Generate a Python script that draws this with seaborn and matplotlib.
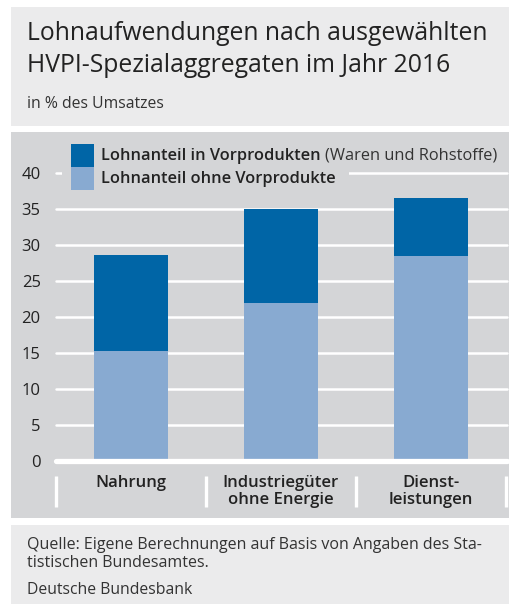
import numpy as np
import pandas as pd
import matplotlib
matplotlib.use("Agg")
import matplotlib.pyplot as plt
from matplotlib.patches import Rectangle
import seaborn as sns

# --- data ---
categories = ["Nahrung", "Industriegüter\nohne Energie", "Dienst-\nleistungen"]
ohne_vorprodukte = [15.3, 22.0, 28.5]
in_vorprodukten = [13.3, 13.0, 8.0]

title = "Lohnaufwendungen nach ausgewählten\nHVPI-Spezialaggregaten im Jahr 2016"
subtitle = "in % des Umsatzes"
source = "Quelle: Eigene Berechnungen auf Basis von Angaben des Sta-\ntistischen Bundesamtes."
publisher = "Deutsche Bundesbank"

# --- style ---
DARK = "#0065a6"
LIGHT = "#88aad1"
PANEL = "#d4d5d7"
HEADER = "#ebebec"
TEXT = "#222222"

sns.set_theme(style="white")
plt.rcParams["font.family"] = ["Open Sans", "DejaVu Sans"]

W, H = 510, 604
fig = plt.figure(figsize=(W / 100, H / 100), dpi=100)


def fx(px):
    return px / W


def fy(py):
    return 1 - py / H


def panel(x0, y0, x1, y1, color, z=-10):
    fig.patches.append(Rectangle((fx(x0), fy(y1)), fx(x1) - fx(x0), fy(y0) - fy(y1),
                                 transform=fig.transFigure, facecolor=color,
                                 edgecolor="none", zorder=z))


# background panels
panel(11, 7, 510, 126, HEADER)
panel(11, 132, 510, 518, PANEL)
panel(11, 525, 510, 604, HEADER)

df = pd.DataFrame({
    "Kategorie": categories,
    "ohne": ohne_vorprodukte,
    "in": in_vorprodukten,
})
df["gesamt"] = df["ohne"] + df["in"]

# axes: x 56..506 px, y 173 (40) .. 461 (0)
ax = fig.add_axes([fx(56), fy(461), fx(506) - fx(56), fy(173) - fy(461)])
ax.set_facecolor("none")

sns.barplot(data=df, x="Kategorie", y="gesamt", color=DARK, saturation=1,
            width=0.49, linewidth=0, ax=ax, zorder=3)
sns.barplot(data=df, x="Kategorie", y="ohne", color=LIGHT, saturation=1,
            width=0.49, linewidth=0, ax=ax, zorder=4)

ax.set_xlim(-0.5, 2.5)
ax.set_ylim(0, 40)
ax.set_yticks(range(0, 41, 5))
for v in range(5, 41, 5):
    ax.axhline(v, color="white", lw=1.8, zorder=1, xmax=1.003, clip_on=False)
ax.axhline(0, color="white", lw=3.8, zorder=5, xmax=1.003, clip_on=False)

for s in ax.spines.values():
    s.set_visible(False)
ax.set_xlabel("")
ax.set_ylabel("")
ax.tick_params(axis="y", length=0, pad=11, labelsize=12, labelcolor=TEXT)
ax.tick_params(axis="x", length=0, pad=10, labelsize=12, labelcolor=TEXT)
for lab in ax.get_xticklabels():
    lab.set_fontweight("semibold")
    lab.set_linespacing(1.1)

# category separators
ax.vlines([-0.5, 0.5, 1.5, 2.5], -0.052, -0.16, transform=ax.get_xaxis_transform(),
          color="white", lw=2.4, clip_on=False)

# legend (drawn over the top gridline)
panel(62, 139, 349, 196, PANEL, z=2)
panel(71, 144, 94, 167, DARK, z=3)
panel(71, 167, 94, 190, LIGHT, z=3)
t1 = fig.text(fx(101), fy(156), "Lohnanteil in Vorprodukten", fontsize=11.8,
              fontweight="semibold", color=TEXT, va="center", zorder=4)
fig.canvas.draw()
bb = t1.get_window_extent()
fig.text(bb.x1 / W + fx(4), fy(156), "(Waren und Rohstoffe)", fontsize=11.8,
         color="#333333", va="center", zorder=4)
fig.text(fx(101), fy(179), "Lohnanteil ohne Vorprodukte", fontsize=11.8,
         fontweight="semibold", color=TEXT, va="center", zorder=4)

# titles and footer
fig.text(fx(27), fy(33), title.split("\n")[0], fontsize=17.8, color=TEXT,
         va="center")
fig.text(fx(27), fy(66), title.split("\n")[1], fontsize=17.8, color=TEXT,
         va="center")
fig.text(fx(27), fy(104), subtitle, fontsize=11.3, color="#333333", va="center")
fig.text(fx(27), fy(545), source.split("\n")[0], fontsize=11.5, color="#333333",
         va="center")
fig.text(fx(27), fy(563), source.split("\n")[1], fontsize=11.5, color="#333333",
         va="center")
fig.text(fx(27), fy(590), publisher, fontsize=11.3, color="#333333", va="center")

fig.savefig("out.png", dpi=100)
